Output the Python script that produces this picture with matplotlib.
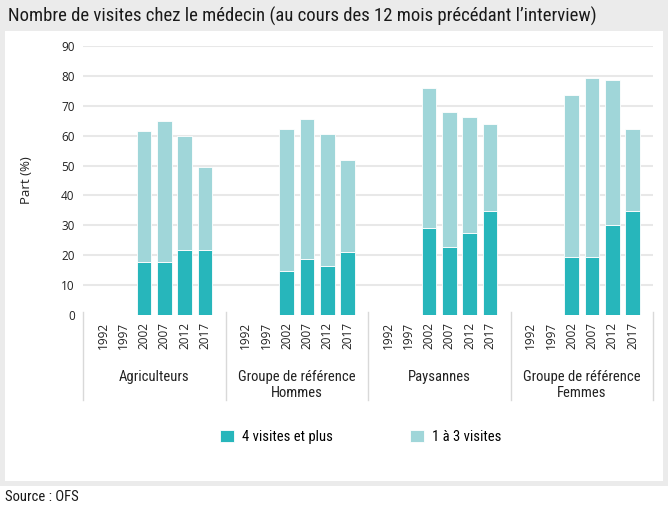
import numpy as np
import matplotlib
matplotlib.use("Agg")
import matplotlib.pyplot as plt
from matplotlib import font_manager
from matplotlib.patches import Rectangle

groups = ["Agriculteurs", "Groupe de référence\nHommes", "Paysannes", "Groupe de référence\nFemmes"]
years = ["1992", "1997", "2002", "2007", "2012", "2017"]

# share of people (%) per year, NaN = no data
plus4 = {
    "Agriculteurs": [np.nan, np.nan, 17.8, 17.8, 21.8, 21.8],
    "Hommes":       [np.nan, np.nan, 14.6, 18.7, 16.3, 21.2],
    "Paysannes":    [np.nan, np.nan, 29.2, 22.6, 27.4, 34.9],
    "Femmes":       [np.nan, np.nan, 19.5, 19.5, 30.0, 34.9],
}
total = {
    "Agriculteurs": [np.nan, np.nan, 61.5, 64.9, 60.0, 49.4],
    "Hommes":       [np.nan, np.nan, 62.3, 65.6, 60.7, 51.8],
    "Paysannes":    [np.nan, np.nan, 76.1, 67.9, 66.3, 63.9],
    "Femmes":       [np.nan, np.nan, 73.6, 79.3, 78.6, 62.3],
}
keys = ["Agriculteurs", "Hommes", "Paysannes", "Femmes"]


def pick(names):
    for n in names:
        try:
            font_manager.findfont(n, fallback_to_default=False)
            return n
        except Exception:
            pass
    return "DejaVu Sans"


narrow = pick(["Liberation Sans Narrow", "Roboto Condensed", "DejaVu Sans Condensed", "Liberation Sans"])
regular = pick(["Open Sans", "Noto Sans", "DejaVu Sans"])

W, H = 668, 508
fig = plt.figure(figsize=(W / 100, H / 100), dpi=100)
fig.patch.set_facecolor("white")

# grey frame and white panel
fig.patches.append(Rectangle((0, 1 - 486 / H), 1, 486 / H, transform=fig.transFigure,
                             facecolor="#ebebeb", edgecolor="none", zorder=-2))
fig.patches.append(Rectangle((5 / W, 1 - 481 / H), 658 / W, 450 / H, transform=fig.transFigure,
                             facecolor="white", edgecolor="none", zorder=-1))

fig.text(8 / W, 1 - 16 / H, "Nombre de visites chez le médecin (au cours des 12 mois précédant l\u2019interview)",
         family=narrow, fontsize=13.5, va="center", ha="left", color="#1a1a1a")
fig.text(5 / W, 1 - 497 / H, "Source : OFS", family=narrow, fontsize=10.5, va="center", ha="left",
         color="#1a1a1a")

x0, x1, ybot, ytop = 83, 653, 315, 46
ax = fig.add_axes([x0 / W, 1 - ybot / H, (x1 - x0) / W, (ybot - ytop) / H])
ax.set_facecolor("none")

dark = "#27b6bb"
light = "#a0d6d9"
bw = 0.72
xs, labs = [], []
for g, k in enumerate(keys):
    pos = g * 7 + 1 + np.arange(6)
    p4 = np.array(plus4[k])
    tt = np.array(total[k])
    b1 = ax.bar(pos, p4, width=bw, color=dark, edgecolor="white", linewidth=0.6, zorder=3)
    b2 = ax.bar(pos, tt - p4, bottom=p4, width=bw, color=light, edgecolor="white", linewidth=0.6, zorder=3)
    xs.extend(pos)
    labs.extend(years)

ax.set_xlim(0, 28)
ax.set_ylim(0, 90)
ax.set_yticks(np.arange(0, 91, 10))
for v in range(10, 91, 10):
    ax.axhline(v, color="#e8e8e8", linewidth=1.5, zorder=1)
for s in ax.spines.values():
    s.set_visible(False)
ax.set_xticks(xs)
ax.set_xticklabels(labs, rotation=90, family=regular, fontsize=8.5, color="#222222")
ax.tick_params(axis="x", length=0, pad=5)
ax.tick_params(axis="y", length=0, pad=6, labelsize=8.5, labelcolor="#222222")
for t in ax.get_yticklabels():
    t.set_family(regular)
ax.set_ylabel("Part (%)", family=regular, fontsize=9.5, color="#222222", labelpad=20)

trans = ax.get_xaxis_transform()
for gx in [0, 7, 14, 21, 28]:
    ax.plot([gx, gx], [0.01, -85 / 269], transform=trans, color="#d9d9d9", linewidth=1, clip_on=False)
for g, name in enumerate(groups):
    ax.text(g * 7 + 3.5, -55 / 269, name, transform=trans, ha="center", va="top",
            family=narrow, fontsize=10.5, color="#222222", linespacing=1.2)

leg = fig.legend([b1, b2], ["4 visites et plus", "1 à 3 visites"], loc="center",
                 bbox_to_anchor=(361 / W, 1 - 437 / H), ncol=2, frameon=False,
                 handlelength=0.95, handleheight=0.95, columnspacing=5.3, handletextpad=0.55,
                 prop={"family": narrow, "size": 10.5})

fig.savefig("out.png", dpi=100)
